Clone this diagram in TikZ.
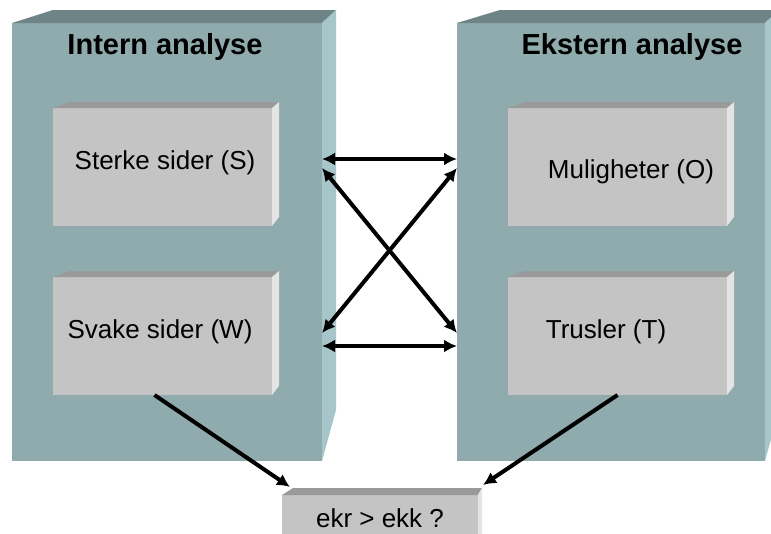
\documentclass[tikz,border=0pt]{standalone}
\usepackage{fontspec}
\setmainfont{Liberation Sans}
\usetikzlibrary{arrows.meta}
\usetikzlibrary{calc}
\usetikzlibrary{positioning}

\definecolor{slabfront}{HTML}{8FABAD}
\definecolor{slabtop}{HTML}{6E8486}
\definecolor{slabside}{HTML}{A7C6CA}
\definecolor{cardfront}{HTML}{C4C4C4}
\definecolor{cardtop}{HTML}{9A9A9A}
\definecolor{cardside}{HTML}{E4E4E4}

\tikzset{>={Latex[length=13pt,width=13pt]}}
\tikzset{
  slab/.style={fill=slabfront, outer sep=0pt, inner sep=0pt},
  card/.style={fill=cardfront, outer sep=0pt, inner sep=0pt,
    minimum width=219, minimum height=118},
  heading/.style={font=\fontsize{29}{34}\selectfont\bfseries},
  lbl/.style={font=\fontsize{26}{30}\selectfont},
  link/.style={<->, line width=4pt},
  feed/.style={->, line width=4pt}
}

% top and side faces of a block: node, left depth, right depth, rise, bottom rise, colour prefix
\newcommand\boxfaces[6]{%
  \fill[#6top] (#1.north west) -- ++(#2,-#4) -- ($(#1.north east)+(#3,-#4)$)
    -- (#1.north east) -- cycle;
  \fill[#6side] (#1.north east) -- ++(#3,-#4) -- ($(#1.south east)+(#3,-#5)$)
    -- (#1.south east) -- cycle;
}

\begin{document}
\begin{tikzpicture}[x=1pt, y=-1pt]
  \clip (0,0) rectangle (771,533);
  \fill[white] (0,0) rectangle (771,533);

  % the two analysis blocks
  \node[slab, minimum width=310, minimum height=438] (intern) at (167,242) {};
  \boxfaces{intern}{41}{14}{13}{51}{slab}
  \node[slab, minimum width=308, minimum height=438] (ekstern) at (611,242) {};
  \boxfaces{ekstern}{43}{14}{13}{51}{slab}

  \node[heading] (intern-title) at (165,47) {Intern analyse};
  \node[heading] (ekstern-title) at (632,47) {Ekstern analyse};

  % the four cards
  \node[card] (S) at (162.5,167) {};
  \boxfaces{S}{17}{7}{6}{9}{card}
  \node[card] (W) at (162.5,336) {};
  \boxfaces{W}{17}{7}{6}{9}{card}
  \node[card] (O) at (617.5,167) {};
  \boxfaces{O}{17}{7}{6}{9}{card}
  \node[card] (T) at (617.5,336) {};
  \boxfaces{T}{17}{7}{6}{9}{card}

  \node[lbl] (S-txt) at (165,163) {Sterke sider (S)};
  \node[lbl] (W-txt) at (160,332) {Svake sider (W)};
  \node[lbl] (O-txt) at (631,172) {Muligheter (O)};
  \node[lbl] (T-txt) at (606,332) {Trusler (T)};

  % result
  \node[card, minimum width=196, minimum height=50] (goal) at (380,520) {};
  \boxfaces{goal}{11}{4}{7}{7}{card}
  \node[lbl] (goal-txt) at (380,518) {ekr > ekk ?};

  % links between the blocks
  \draw[link] ([yshift=8pt]intern.east |- S.east) -- ([yshift=8pt]ekstern.west |- S.west);
  \draw[link] ([yshift=-10pt]intern.east |- W.east) -- ([yshift=-10pt]ekstern.west |- W.west);
  \draw[link] ([yshift=-1pt]intern.east |- S.east) -- ([yshift=3pt]ekstern.west |- W.west);
  \draw[link] ([yshift=-1pt]ekstern.west |- O.west) -- ([yshift=3pt]intern.east |- T.east);

  \draw[feed] ([xshift=-8pt]W.south) -- ([shift={(8,-8)}]goal.north west);
  \draw[feed] (T.south) -- ([shift={(5,-10)}]goal.north east);
\end{tikzpicture}
\end{document}
